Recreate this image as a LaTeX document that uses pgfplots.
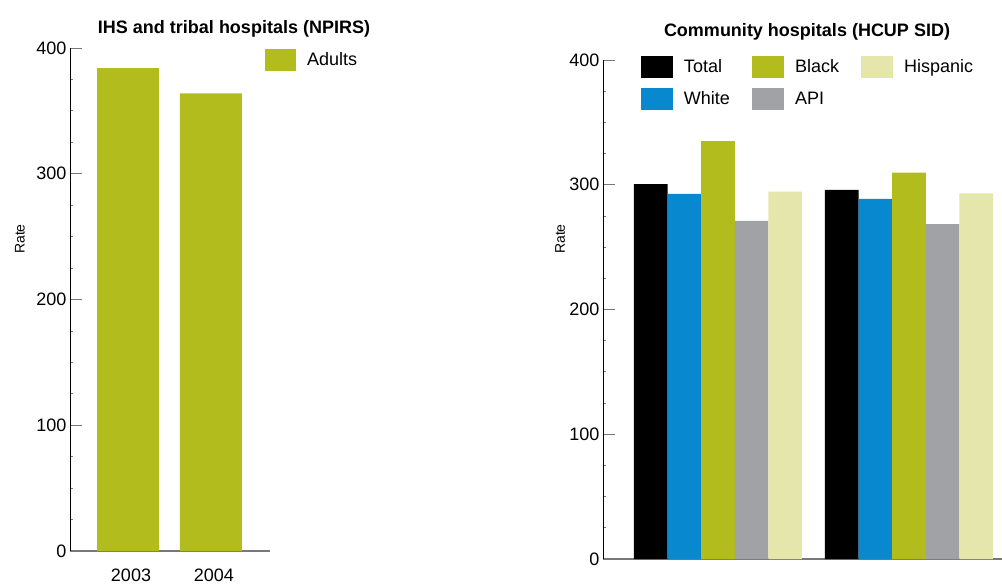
\documentclass[border=0pt]{standalone}
\usepackage{fontspec}
\setmainfont{Liberation Sans}
\usepackage{pgfplots}
\pgfplotsset{compat=1.18}
\definecolor{cgreen}{RGB}{178,188,28}
\definecolor{cblue}{RGB}{8,137,207}
\definecolor{cgray}{RGB}{160,162,166}
\definecolor{clight}{RGB}{228,230,172}
\definecolor{tickgray}{RGB}{120,120,120}
\newcommand{\fs}{\fontsize{18bp}{21bp}\selectfont}
\pgfplotsset{
  common/.style={
    scale only axis,
    ymin=0, ymax=400,
    axis x line*=bottom, axis y line*=left,
    x axis line style={-, draw=tickgray, line width=1.2bp},
    y axis line style={-, draw=black, line width=0.8bp},
    ytick={0,100,200,300,400}, minor y tick num=3,
    tick align=inside, ytick pos=left,
    major tick length=12bp, minor tick length=3bp,
    every tick/.style={draw=tickgray, line width=0.8bp},
    major x tick style={draw=none},
    xtick={1,2}, xticklabels={2003,2004},
    tick label style={font=\fs},
    /pgf/number format/assume math mode=true,
    legend cell align=left,
    legend style={draw=none, fill=none, inner sep=0pt, outer sep=0pt,
      font=\fs, row sep=10bp,
      nodes={inner sep=0pt, anchor=west},
      /tikz/every odd column/.append style={column sep=11bp},
      /tikz/every even column/.append style={column sep=22bp}},
  },
}
\begin{document}
\begin{tikzpicture}
\useasboundingbox (0,0) rectangle (1002bp,-588bp);
% Left panel
\begin{axis}[common,
  at={(70bp,-551bp)}, anchor=south west,
  width=200bp, height=503bp,
  xmin=0.301, xmax=2.711,
  ybar, bar width=62bp,
  xticklabel style={yshift=-2bp, xshift=3bp},
  legend image code/.code={\fill[#1] (0bp,-11bp) rectangle (31bp,11bp);},
  legend style={at={(axis description cs:0.975,0.998)}, anchor=north west},
]
\addplot[fill=cgreen, draw=none] coordinates {(1,384) (2,364)};
\addlegendentry{Adults}
\end{axis}
\node[anchor=base, font=\fs\bfseries] at (234bp,-33bp) {IHS and tribal hospitals (NPIRS)};
\node[rotate=90, font=\fontsize{14bp}{16bp}\selectfont] at (20bp,-239bp) {Rate};
% Right panel
\begin{axis}[common,
  at={(603bp,-559bp)}, anchor=south west,
  width=399bp, height=499bp,
  xmin=0.398, xmax=2.487,
  ybar=0pt, bar width=33.6bp,
  xticklabel style={yshift=-17bp, xshift=3bp},
  legend columns=2, transpose legend,
  legend image code/.code={\fill[#1] (0bp,-11bp) rectangle (32bp,11bp);},
  legend style={at={(axis description cs:0.0952,1.008)}, anchor=north west},
]
\addplot[fill=black, draw=none] coordinates {(1,300.5) (2,295.8)};
\addlegendentry{Total}
\addplot[fill=cblue, draw=none] coordinates {(1,292.6) (2,288.6)};
\addlegendentry{White}
\addplot[fill=cgreen, draw=none] coordinates {(1,335) (2,309.7)};
\addlegendentry{Black}
\addplot[fill=cgray, draw=none] coordinates {(1,271) (2,268.5)};
\addlegendentry{API}
\addplot[fill=clight, draw=none] coordinates {(1,294.4) (2,293)};
\addlegendentry{Hispanic}
\end{axis}
\node[anchor=base, font=\fs\bfseries] at (807bp,-36bp) {Community hospitals (HCUP SID)};
\node[rotate=90, font=\fontsize{14bp}{16bp}\selectfont] at (560bp,-239bp) {Rate};
\end{tikzpicture}
\end{document}
